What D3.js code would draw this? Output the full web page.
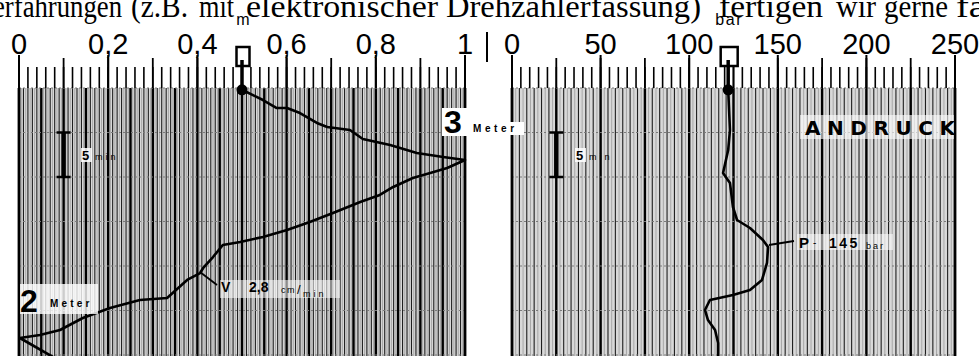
<!DOCTYPE html>
<html><head><meta charset="utf-8">
<script src="https://cdn.jsdelivr.net/npm/d3@7"></script>
<style>html,body{margin:0;padding:0;background:#fff;overflow:hidden}svg{display:block}</style>
</head><body>
<script>
// ---- data ----
const headerWords = ["erfahrungen", "(z.B.", "mit", "elektronischer", "Drehzahlerfassung)", "fertigen", "wir", "gerne", "fa"];
const depthTickValues = [0, 0.2, 0.4, 0.6, 0.8, 1];
const depthTickLabels = ["0", "0,2", "0,4", "0,6", "0,8", "1"];
const pressTickValues = [0, 50, 100, 150, 200, 250];
const pressTickLabels = ["0", "50", "100", "150", "200", "250"];
// time in minutes (downwards), depth reading in m
const depthTime  = [0.2, 1.35, 2.25, 2.25, 2.81, 3.93, 4.38, 4.72, 5.73, 6.40, 7.30, 7.75, 8.09, 8.99, 9.55, 10.11, 11.12, 12.02, 12.81, 14.04, 15.06, 15.96, 16.74, 17.30, 17.64, 18.99, 20.22, 20.79, 21.57, 23.60, 23.82, 24.72, 25.84, 27.19, 27.75, 28.09, 30.22];
const depthValue = [0.50, 0.547, 0.578, 0.601, 0.630, 0.668, 0.691, 0.742, 0.771, 0.832, 0.892, 0.951, 1.0, 0.960, 0.922, 0.883, 0.839, 0.809, 0.765, 0.704, 0.652, 0.601, 0.547, 0.496, 0.457, 0.435, 0.413, 0.406, 0.377, 0.332, 0.271, 0.204, 0.143, 0.092, 0.047, 0.002, 0.076];
// pressure in bar
const pressTime  = [0.2, 4.72, 6.97, 9.55, 10.67, 13.37, 14.83, 15.73, 17.08, 17.87, 19.66, 21.57, 22.70, 23.26, 23.82, 24.94, 26.07, 27.19, 28.65, 30.11];
const pressValue = [122, 123, 122, 119.1, 123, 124.7, 127, 134.3, 141.6, 144.5, 143.9, 141.1, 134.3, 124.7, 111.7, 108.9, 110.6, 114.6, 116.3, 116.3];

const W = 979, H = 356;
const svg = d3.select("body").append("svg").attr("width", W).attr("height", H)
  .style("font-family", "'Liberation Sans', Arial, sans-serif");

const xL = d3.scaleLinear().domain([0, 1]).range([19, 465]);
const xR = d3.scaleLinear().domain([0, 250]).range([512, 955]);
const y = d3.scaleLinear().domain([0, 30]).range([88, 355]);

// header text (clipped line of the scanned page)
const wordX = [-7, 131, 199, 246, 446, 719, 836, 884, 956];
const wordLen = [129, 57, 35, 192, 255, 104, 40, 64, 30];
svg.append("g").selectAll("text").data(headerWords).join("text")
  .attr("x", (d, i) => wordX[i]).attr("y", 17)
  .attr("font-family", "'Liberation Serif', 'Times New Roman', serif").attr("font-size", 32)
  .attr("textLength", (d, i) => wordLen[i]).attr("lengthAdjust", "spacingAndGlyphs")
  .text(d => d);

function panel(x, thinStep, boldStep, maxV, minorStep, medStep, tickVals, tickLabs, unit, unitSpacing, curveT, curveV, boxW) {
  const g = svg.append("g");
  const [x0, x1] = x.range();
  g.append("rect").attr("x", x0).attr("y", y(0)).attr("width", x1 - x0).attr("height", H - y(0)).attr("fill", "#d8d8d8");
  const fine = d3.range(thinStep / 2, maxV, thinStep);
  g.selectAll(".fine").data(fine).join("line")
    .attr("x1", d => x(d)).attr("x2", d => x(d)).attr("y1", y(0)).attr("y2", H)
    .attr("stroke", "#9a9a9a").attr("stroke-width", 0.8);
  const thin = d3.range(0, maxV + 1e-9, thinStep);
  g.selectAll(".thin").data(thin).join("line")
    .attr("x1", d => x(d)).attr("x2", d => x(d)).attr("y1", y(0)).attr("y2", H)
    .attr("stroke", "#1e1e1e").attr("stroke-width", 1.1);
  const bold = d3.range(0, maxV + 1e-9, boldStep);
  g.selectAll(".bold").data(bold).join("line")
    .attr("x1", d => x(d)).attr("x2", d => x(d)).attr("y1", y(0)).attr("y2", H)
    .attr("stroke", "#000").attr("stroke-width", 2.4);
  // horizontal time grid every 5 min
  g.selectAll(".hg").data(d3.range(0, 31, 5)).join("line")
    .attr("x1", x0).attr("x2", x1).attr("y1", d => y(d)).attr("y2", d => y(d))
    .attr("stroke", "#7a7a7a").attr("stroke-width", 1.2).attr("stroke-dasharray", "2,2");
  // ticks
  const minor = d3.range(0, maxV + 1e-9, minorStep);
  g.selectAll(".mt").data(minor).join("line")
    .attr("x1", d => x(d)).attr("x2", d => x(d)).attr("y1", 67).attr("y2", y(0))
    .attr("stroke", "#000").attr("stroke-width", 1.6);
  const med = d3.range(0, maxV + 1e-9, medStep);
  g.selectAll(".md").data(med).join("line")
    .attr("x1", d => x(d)).attr("x2", d => x(d)).attr("y1", 58).attr("y2", y(0))
    .attr("stroke", "#000").attr("stroke-width", 1.8);
  g.selectAll(".mj").data(tickVals).join("line")
    .attr("x1", d => x(d)).attr("x2", d => x(d)).attr("y1", 55).attr("y2", y(0))
    .attr("stroke", "#000").attr("stroke-width", 2);
  g.selectAll(".lab").data(tickVals).join("text")
    .attr("x", d => x(d)).attr("y", 54).attr("text-anchor", "middle")
    .attr("font-size", 29).text((d, i) => tickLabs[i]);
  g.append("text").attr("x", x(curveV[0]) + 1).attr("y", 25).attr("text-anchor", "middle")
    .attr("font-size", 16).attr("letter-spacing", unitSpacing).text(unit);
  // marker
  g.append("rect").attr("x", x(curveV[0]) - boxW / 2 + 1).attr("y", 47).attr("width", boxW).attr("height", 19)
    .attr("fill", "#fff").attr("stroke", "#000").attr("stroke-width", 2.5);
  g.append("line").attr("x1", x(curveV[0])).attr("x2", x(curveV[0])).attr("y1", 60).attr("y2", y(curveT[0]))
    .attr("stroke", "#000").attr("stroke-width", 3.5);
  // curve
  const pts = curveT.map((t, i) => [curveV[i], t]);
  g.append("path").datum(pts)
    .attr("d", d3.line().x(d => x(d[0])).y(d => y(d[1])))
    .attr("fill", "none").attr("stroke", "#000").attr("stroke-width", 2.6).attr("stroke-linejoin", "round");
  g.append("circle").attr("cx", x(curveV[0])).attr("cy", y(curveT[0])).attr("r", 5.5).attr("fill", "#000");
  // borders
  g.append("line").attr("x1", x0).attr("x2", x0).attr("y1", y(0)).attr("y2", H).attr("stroke", "#000").attr("stroke-width", 2.5);
  g.append("line").attr("x1", x1).attr("x2", x1).attr("y1", y(0)).attr("y2", H).attr("stroke", "#000").attr("stroke-width", 2.5);
  return g;
}

panel(xL, 0.01, 0.05, 1, 0.02, 0.1, depthTickValues, depthTickLabels, "m", 0, depthTime, depthValue, 13);
panel(xR, 25 / 6, 25, 250, 5, 25, pressTickValues, pressTickLabels, "bar", 1.5, pressTime, pressValue, 17);

// separator line between the scales
svg.append("line").attr("x1", 487).attr("x2", 487).attr("y1", 32).attr("y2", 62).attr("stroke", "#000").attr("stroke-width", 2);

// 5-min scale bars
function scaleBar(cx, lx) {
  svg.append("line").attr("x1", cx).attr("x2", cx).attr("y1", y(5)).attr("y2", y(10)).attr("stroke", "#000").attr("stroke-width", 4.5);
  [5, 10].forEach(t => svg.append("line").attr("x1", cx - 7).attr("x2", cx + 7).attr("y1", y(t)).attr("y2", y(t)).attr("stroke", "#000").attr("stroke-width", 2.5));
  svg.append("rect").attr("x", lx - 1).attr("y", 148).attr("width", 11).attr("height", 14).attr("fill", "#fff").attr("opacity", 0.85);
  svg.append("text").attr("x", lx).attr("y", 160).attr("font-size", 13).attr("font-weight", "bold").text("5");
  svg.append("text").attr("x", lx + 13).attr("y", 160).attr("font-size", 9).attr("letter-spacing", 3).text("min");
}
scaleBar(xL(0.1), 82);
scaleBar(xR(25), 576);

// "3 Meter"
svg.append("rect").attr("x", 442).attr("y", 108).attr("width", 26).attr("height", 28).attr("fill", "#fff");
svg.append("text").attr("x", 444).attr("y", 133).attr("font-size", 32).attr("font-weight", "bold").text("3");
svg.append("rect").attr("x", 470).attr("y", 122).attr("width", 54).attr("height", 13).attr("fill", "#fff");
svg.append("text").attr("x", 473).attr("y", 132).attr("font-size", 10).attr("font-weight", "bold").attr("letter-spacing", 3.6).text("Meter");

// "2 Meter"
svg.append("rect").attr("x", 20).attr("y", 284).attr("width", 78).attr("height", 30).attr("fill", "#fff").attr("opacity", 0.8);
svg.append("text").attr("x", 20).attr("y", 312).attr("font-size", 32).attr("font-weight", "bold").text("2");
svg.append("text").attr("x", 50).attr("y", 307).attr("font-size", 10).attr("font-weight", "bold").attr("letter-spacing", 3.2).text("Meter");

// ANDRUCK
svg.append("rect").attr("x", 800).attr("y", 115).attr("width", 154).attr("height", 24).attr("fill", "#fff").attr("opacity", 0.6);
svg.append("text").attr("x", 805).attr("y", 135).attr("font-size", 20).attr("font-weight", "bold")
  .attr("font-family", "'DejaVu Sans', sans-serif")
  .attr("textLength", 150).attr("lengthAdjust", "spacing").text("ANDRUCK");

// V 2,8 cm/min
svg.append("line").attr("x1", 200).attr("y1", 272).attr("x2", 217).attr("y2", 285).attr("stroke", "#000").attr("stroke-width", 1.8);
svg.append("rect").attr("x", 220).attr("y", 280).attr("width", 120).attr("height", 18).attr("fill", "#fff").attr("opacity", 0.55);
svg.append("text").attr("x", 221).attr("y", 292).attr("font-size", 14).attr("font-weight", "bold").text("V");
svg.append("text").attr("x", 249).attr("y", 292).attr("font-size", 14).attr("font-weight", "bold").text("2,8");
svg.append("text").attr("x", 281).attr("y", 293).attr("font-size", 9).attr("letter-spacing", 1.5).text("cm");
svg.append("text").attr("x", 297).attr("y", 294).attr("font-size", 13).text("/");
svg.append("text").attr("x", 303).attr("y", 297).attr("font-size", 9).attr("letter-spacing", 3).text("min");

// P 145 bar
svg.append("line").attr("x1", xR(145)).attr("y1", 245).attr("x2", 794).attr("y2", 241).attr("stroke", "#000").attr("stroke-width", 1.8);
svg.append("rect").attr("x", 797).attr("y", 234).attr("width", 96).attr("height", 16).attr("fill", "#fff").attr("opacity", 0.55);
svg.append("text").attr("x", 799).attr("y", 248).attr("font-size", 15).attr("font-weight", "bold").text("P");
svg.append("text").attr("x", 813).attr("y", 246).attr("font-size", 10).text("-");
svg.append("text").attr("x", 829).attr("y", 248).attr("font-size", 14).attr("font-weight", "bold").attr("letter-spacing", 2.5).text("145");
svg.append("text").attr("x", 866).attr("y", 249).attr("font-size", 9).attr("letter-spacing", 2).text("bar");
</script>
</body></html>
